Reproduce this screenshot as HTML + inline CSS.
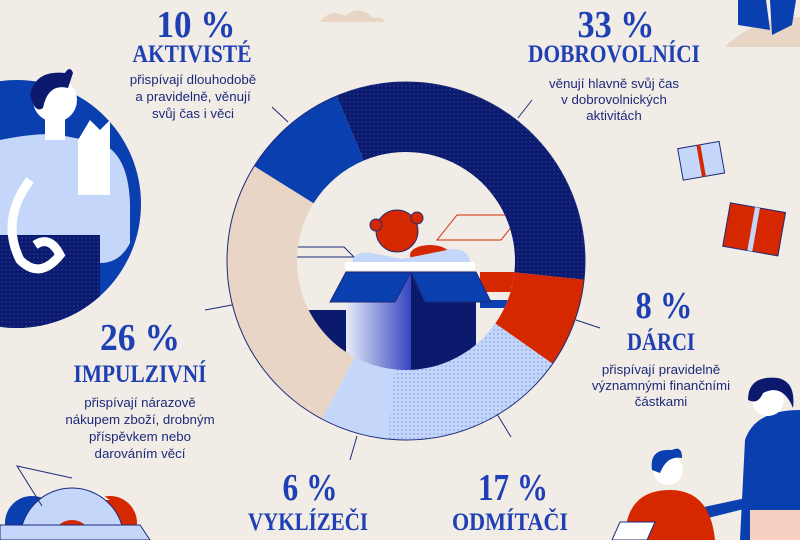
<!DOCTYPE html>
<html><head><meta charset="utf-8"><style>
html,body{margin:0;padding:0;background:#f1ece6;}
svg{display:block}
.n{font-family:"Liberation Serif",serif;font-weight:bold;fill:#1e40b4;}
.d{font-family:"Liberation Sans",sans-serif;font-size:13.3px;fill:#1c2a7a;}
</style></head><body>
<svg width="800" height="540" viewBox="0 0 800 540" xmlns="http://www.w3.org/2000/svg">
<defs>
<pattern id="dots" width="4" height="4" patternUnits="userSpaceOnUse"><rect width="4" height="4" fill="#0b1a6c"/><circle cx="2" cy="2" r="0.7" fill="#2a44a8"/></pattern>
<pattern id="ldots" width="4" height="4" patternUnits="userSpaceOnUse"><rect width="4" height="4" fill="#c4d7fa"/><circle cx="2" cy="2" r="0.7" fill="#6f8fe0"/></pattern>
<clipPath id="inner"><circle cx="406" cy="261" r="109"/></clipPath>
<clipPath id="lc"><circle cx="17" cy="204" r="124"/></clipPath>
<linearGradient id="g1" x1="0" x2="1"><stop offset="0" stop-color="#e8ecf8"/><stop offset="1" stop-color="#3346c0"/></linearGradient>
</defs>
<rect width="800" height="540" fill="#f1ece6"/>
<path d="M320 22 q10 -14 25 -6 q15 -12 28 2 q10 -2 12 4z" fill="#e8d5c6"/>
<path d="M725 47 q30 -30 75 -30 v30z" fill="#e8d5c6"/>
<path d="M738 0 h28 l4 30 l-32 -5z" fill="#0a3fb0"/><path d="M770 0 h26 l-4 25 l-20 10z" fill="#0a3fb0"/>
<g transform="rotate(-10 700 160)"><rect x="680" y="145" width="42" height="32" fill="#c4d7fa" stroke="#1c2a7a"/><rect x="699" y="145" width="4" height="32" fill="#d62800"/></g>
<g transform="rotate(10 752 230)"><rect x="726" y="207" width="56" height="44" fill="#d62800" stroke="#1c2a7a"/><rect x="751" y="207" width="5" height="44" fill="#c4d7fa"/></g>
<!-- left circle figure -->
<circle cx="17" cy="204" r="124" fill="#0a3fb0"/>
<g clip-path="url(#lc)">
<path d="M0 140 q40 -8 60 -5 l40 8 q28 10 30 60 v40 q-10 20 -30 20 h-100z" fill="#c4d7fa"/>
<path d="M15 235 h85 v100 h-100 v-100z" fill="url(#dots)"/>
<path d="M78 140 l12 -20 l10 10 l10 -10 v75 h-32z" fill="#fff"/>
<path d="M30 180 q-30 40 -10 80 q20 20 40 -5 q-10 -20 -25 -10" fill="none" stroke="#fff" stroke-width="9"/>
</g>
<rect x="45" y="118" width="20" height="22" fill="#fff"/>
<circle cx="55" cy="100" r="22" fill="#fff"/><path d="M30 95 q5 -25 35 -22 q5 -8 8 0 l-5 15 q-20 -5 -25 20 q-8 6 -13 -13z" fill="#0b1a6c"/>
<!-- donut -->
<path d="M336.6 96.0 A179 179 0 0 1 584.0 279.7 L514.4 272.4 A109 109 0 0 0 363.8 160.5Z" fill="url(#dots)"/>
<path d="M584.0 279.7 A179 179 0 0 1 552.6 363.7 L495.3 323.5 A109 109 0 0 0 514.4 272.4Z" fill="#d62800"/>
<path d="M552.6 363.7 A179 179 0 0 1 387.3 439.0 L394.6 369.4 A109 109 0 0 0 495.3 323.5Z" fill="url(#ldots)"/>
<path d="M387.3 439.0 A179 179 0 0 1 322.0 419.0 L354.8 357.2 A109 109 0 0 0 394.6 369.4Z" fill="#c4d7fa"/>
<path d="M322.0 419.0 A179 179 0 0 1 254.2 166.1 L313.6 203.2 A109 109 0 0 0 354.8 357.2Z" fill="#e8d5c6"/>
<path d="M254.2 166.1 A179 179 0 0 1 336.6 96.0 L363.8 160.5 A109 109 0 0 0 313.6 203.2Z" fill="#0a3fb0"/>
<circle cx="406" cy="261" r="179" fill="none" stroke="#1c2a7a" stroke-width="1"/>
<g clip-path="url(#inner)">
<rect x="290" y="310" width="60" height="70" fill="#0b1a6c"/>
<rect x="480" y="272" width="50" height="20" fill="#d62800"/>
<rect x="480" y="300" width="50" height="8" fill="#0a3fb0"/>
<path d="M437 240 l20 -25 h64 l-20 25z" fill="none" stroke="#d62800"/>
<path d="M296 247 h48 l10 10 h-58z" fill="none" stroke="#1c2a7a"/>
<circle cx="397" cy="231" r="21" fill="#d62800" stroke="#1c2a7a"/><circle cx="376" cy="225" r="6" fill="#d62800" stroke="#1c2a7a"/><circle cx="417" cy="218" r="6" fill="#d62800" stroke="#1c2a7a"/>
<ellipse cx="430" cy="255" rx="20" ry="10" fill="#d62800"/>
<path d="M352 265 q0 -15 20 -12 l30 6 l50 -10 q20 0 18 18z" fill="#c4d7fa"/>
<rect x="345" y="262" width="130" height="8" fill="#fff"/>
<rect x="346" y="272" width="65" height="100" fill="url(#g1)"/>
<rect x="411" y="272" width="65" height="100" fill="#0b1a6c"/>
<path d="M330 302 l16 -30 h65 l-16 30z" fill="#0a3fb0" stroke="#1c2a7a"/>
<path d="M411 272 h65 l15 30 h-66z" fill="#0a3fb0" stroke="#1c2a7a"/>
</g>
<g stroke="#1c2a7a" stroke-width="1">
<line x1="272" y1="107" x2="288" y2="122"/>
<line x1="532" y1="100" x2="518" y2="118"/>
<line x1="576" y1="320" x2="600" y2="328"/>
<line x1="232" y1="305" x2="205" y2="310"/>
<line x1="357" y1="436" x2="350" y2="460"/>
<line x1="497" y1="414" x2="511" y2="437"/>
</g>
<g text-anchor="middle">
<text class="n" x="196" y="37" font-size="38" textLength="79" lengthAdjust="spacingAndGlyphs">10 %</text>
<text class="n" x="192" y="62" font-size="25" textLength="119" lengthAdjust="spacingAndGlyphs">AKTIVISTÉ</text>
<text class="d" x="193" y="84">přispívají dlouhodobě</text>
<text class="d" x="193" y="101">a pravidelně, věnují</text>
<text class="d" x="193" y="118">svůj čas i věci</text>

<text class="n" x="616" y="37" font-size="38" textLength="77" lengthAdjust="spacingAndGlyphs">33 %</text>
<text class="n" x="614" y="62" font-size="25" textLength="172" lengthAdjust="spacingAndGlyphs">DOBROVOLNÍCI</text>
<text class="d" x="614" y="88">věnují hlavně svůj čas</text>
<text class="d" x="614" y="104">v dobrovolnických</text>
<text class="d" x="614" y="120">aktivitách</text>

<text class="n" x="664" y="318" font-size="38" textLength="57" lengthAdjust="spacingAndGlyphs">8 %</text>
<text class="n" x="661" y="350" font-size="25" textLength="68" lengthAdjust="spacingAndGlyphs">DÁRCI</text>
<text class="d" x="661" y="374">přispívají pravidelně</text>
<text class="d" x="661" y="390">významnými finančními</text>
<text class="d" x="661" y="406">částkami</text>

<text class="n" x="140" y="350" font-size="38" textLength="80" lengthAdjust="spacingAndGlyphs">26 %</text>
<text class="n" x="140" y="382" font-size="25" textLength="133" lengthAdjust="spacingAndGlyphs">IMPULZIVNÍ</text>
<text class="d" x="140" y="407">přispívají nárazově</text>
<text class="d" x="140" y="424">nákupem zboží, drobným</text>
<text class="d" x="140" y="441">příspěvkem nebo</text>
<text class="d" x="140" y="458">darováním věcí</text>

<text class="n" x="310" y="500" font-size="38" textLength="55" lengthAdjust="spacingAndGlyphs">6 %</text>
<text class="n" x="308" y="530" font-size="25" textLength="120" lengthAdjust="spacingAndGlyphs">VYKLÍZEČI</text>
<text class="n" x="513" y="500" font-size="38" textLength="70" lengthAdjust="spacingAndGlyphs">17 %</text>
<text class="n" x="510" y="530" font-size="25" textLength="116" lengthAdjust="spacingAndGlyphs">ODMÍTAČI</text>
</g>
<circle cx="32" cy="523" r="27" fill="#0a3fb0"/><circle cx="110" cy="523" r="27" fill="#d62800"/>
<path d="M40 500 q32 -25 70 0" fill="#fff"/>
<path d="M20 540 a52 52 0 0 1 104 0z" fill="#c4d7fa" stroke="#1c2a7a"/>
<path d="M52 540 a20 20 0 0 1 40 0z" fill="#d62800"/>
<path d="M0 525 h140 l10 15 h-150z" fill="#c4d7fa" stroke="#1c2a7a"/>
<path d="M72 478 l-55 -12 l25 40" fill="none" stroke="#1c2a7a"/>
<path d="M745 440 q10 -30 55 -30 v130 h-60z" fill="#0a3fb0"/>
<path d="M690 510 l70 -15 v10 l-60 15z" fill="#0a3fb0"/>
<circle cx="768" cy="400" r="16" fill="#fff"/><path d="M748 400 q0 -25 30 -22 q18 4 15 30 q-10 -25 -30 -15 q-5 12 -15 7z" fill="#0b1a6c"/>
<rect x="750" y="510" width="50" height="30" fill="#f6cfc0"/>
<path d="M625 540 q0 -50 45 -50 q40 0 45 50z" fill="#d62800"/>
<circle cx="668" cy="470" r="15" fill="#fff"/><path d="M652 470 q-3 -22 20 -20 q10 -5 10 8 q-15 -3 -22 15z" fill="#0a3fb0"/>
<path d="M612 540 l8 -18 h35 l-8 18z" fill="#fff" stroke="#1c2a7a"/>
</svg>
</body></html>
